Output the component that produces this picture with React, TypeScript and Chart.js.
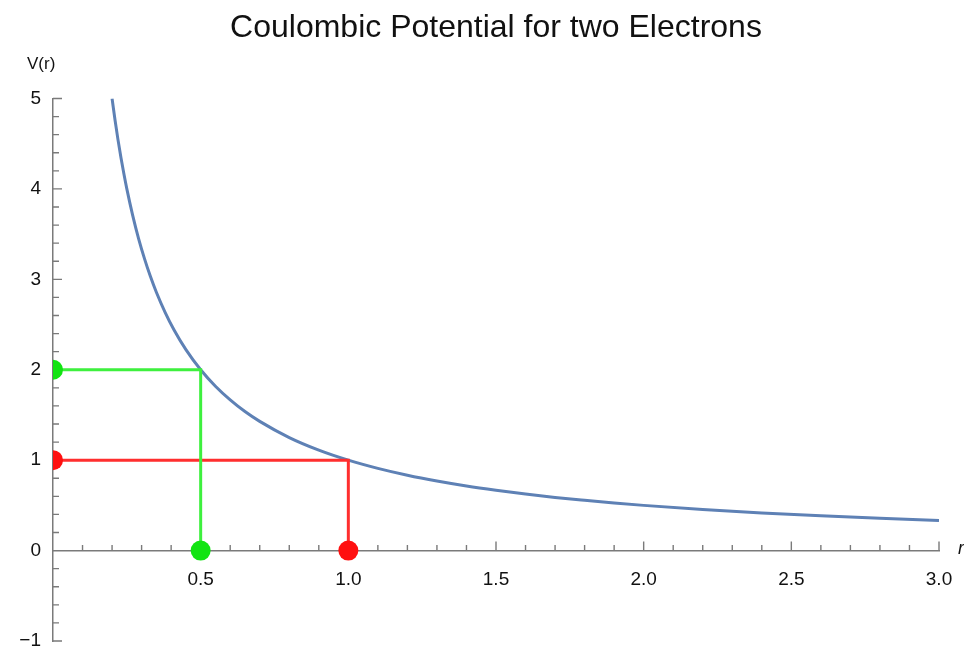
import { useEffect, useRef } from 'react';
import { Chart, registerables } from 'chart.js';

Chart.register(...registerables);

const TITLE = 'Coulombic Potential for two Electrons';
const Y_LABEL = 'V(r)';
const X_LABEL = 'r';

// V(r) curve
const R_VALUES = [0.2, 0.21, 0.22, 0.23, 0.24, 0.25, 0.27, 0.29, 0.31, 0.33, 0.35, 0.38, 0.41, 0.45, 0.5, 0.55, 0.6, 0.65, 0.7, 0.8, 0.9, 1.0, 1.1, 1.2, 1.3, 1.4, 1.5, 1.6, 1.7, 1.8, 1.9, 2.0, 2.2, 2.4, 2.6, 2.8, 3.0];
const V_VALUES = [5.0, 4.762, 4.545, 4.348, 4.167, 4.0, 3.704, 3.448, 3.226, 3.030, 2.857, 2.632, 2.439, 2.222, 2.0, 1.818, 1.667, 1.538, 1.429, 1.25, 1.111, 1.0, 0.909, 0.833, 0.769, 0.714, 0.667, 0.625, 0.588, 0.556, 0.526, 0.5, 0.455, 0.417, 0.385, 0.357, 0.333];

// Marker guide lines
const GREEN_PATH_X = [0, 0.5, 0.5];
const GREEN_PATH_Y = [2, 2, 0];
const RED_PATH_X = [0, 1.0, 1.0];
const RED_PATH_Y = [1, 1, 0];

// Marker dots
const GREEN_DOTS_X = [0, 0.5];
const GREEN_DOTS_Y = [2, 0];
const RED_DOTS_X = [0, 1.0];
const RED_DOTS_Y = [1, 0];

// Axes
const X_MIN = 0;
const X_MAX = 3;
const X_STEP = 0.5;
const X_MINOR = 0.1;
const Y_MIN = -1;
const Y_MAX = 5;
const Y_STEP = 1;
const Y_MINOR = 0.2;

const FONT = "'Liberation Sans', Arial, Helvetica, sans-serif";
const AXIS_COLOR = '#7a7a7a';
const TEXT_COLOR = '#111111';
const CURVE_COLOR = '#5e81b5';
const GREEN_LINE = '#3ef03e';
const GREEN_DOT = '#12e412';
const RED_LINE = '#ff2e2e';
const RED_DOT = '#ff1010';

const zip = (xs: number[], ys: number[]) => xs.map((x, i) => ({ x, y: ys[i] }));

const axisTicks = {
  id: 'axisTicks',
  beforeDatasetsDraw(chart: any) {
    const { ctx, chartArea, scales } = chart;
    const x = scales.x;
    const y = scales.y;
    const y0 = y.getPixelForValue(0);
    ctx.save();
    ctx.strokeStyle = AXIS_COLOR;
    ctx.lineWidth = 1.4;
    ctx.beginPath();
    const nx = Math.round((X_MAX - X_MIN) / X_MINOR);
    for (let i = 1; i <= nx; i++) {
      const v = X_MIN + i * X_MINOR;
      const px = x.getPixelForValue(v);
      const major = i % 5 === 0;
      ctx.moveTo(px, y0);
      ctx.lineTo(px, y0 - (major ? 9 : 5.5));
    }
    const ny = Math.round((Y_MAX - Y_MIN) / Y_MINOR);
    for (let j = 0; j <= ny; j++) {
      const v = Y_MIN + j * Y_MINOR;
      if (Math.abs(v) < 1e-9) continue;
      const py = y.getPixelForValue(v);
      const major = j % 5 === 0;
      ctx.moveTo(chartArea.left, py);
      ctx.lineTo(chartArea.left + (major ? 9 : 6), py);
    }
    ctx.stroke();
    ctx.restore();
  },
  afterDraw(chart: any) {
    const { ctx, chartArea, scales } = chart;
    const y0 = scales.y.getPixelForValue(0);
    ctx.save();
    ctx.fillStyle = TEXT_COLOR;
    ctx.font = `17px ${FONT}`;
    ctx.textAlign = 'left';
    ctx.textBaseline = 'middle';
    ctx.fillText(Y_LABEL, 27, 64);
    ctx.font = `italic 18px ${FONT}`;
    ctx.fillText(X_LABEL, chartArea.right + 19, y0 - 2);
    ctx.restore();
  },
};

export default function App() {
  const canvasRef = useRef<HTMLCanvasElement | null>(null);

  useEffect(() => {
    if (!canvasRef.current) return;
    const chart = new Chart(canvasRef.current, {
      type: 'scatter',
      data: {
        datasets: [
          {
            label: 'green dots',
            data: zip(GREEN_DOTS_X, GREEN_DOTS_Y),
            backgroundColor: GREEN_DOT,
            borderWidth: 0,
            pointRadius: 10,
            showLine: false,
            order: 0,
            clip: { left: 0, top: false, right: false, bottom: false } as any,
          },
          {
            label: 'red dots',
            data: zip(RED_DOTS_X, RED_DOTS_Y),
            backgroundColor: RED_DOT,
            borderWidth: 0,
            pointRadius: 10,
            showLine: false,
            order: 0,
            clip: { left: 0, top: false, right: false, bottom: false } as any,
          },
          {
            label: 'green path',
            data: zip(GREEN_PATH_X, GREEN_PATH_Y),
            borderColor: GREEN_LINE,
            borderWidth: 3,
            pointRadius: 0,
            showLine: true,
            order: 1,
          },
          {
            label: 'red path',
            data: zip(RED_PATH_X, RED_PATH_Y),
            borderColor: RED_LINE,
            borderWidth: 3,
            pointRadius: 0,
            showLine: true,
            order: 1,
          },
          {
            label: 'V(r)',
            data: zip(R_VALUES, V_VALUES),
            borderColor: CURVE_COLOR,
            borderWidth: 3,
            pointRadius: 0,
            showLine: true,
            cubicInterpolationMode: 'monotone',
            order: 2,
          },
        ],
      },
      options: {
        animation: false,
        responsive: true,
        maintainAspectRatio: false,
        layout: { padding: { left: 0, right: 25, top: 0, bottom: 7 } },
        plugins: {
          legend: { display: false },
          tooltip: { enabled: false },
          title: {
            display: true,
            text: TITLE,
            fullSize: false,
            color: TEXT_COLOR,
            font: { family: FONT, size: 32, weight: 'normal', lineHeight: 1.2 },
            padding: { top: 9, bottom: 51.1 },
          },
        },
        scales: {
          x: {
            type: 'linear',
            position: { y: 0 } as any,
            min: X_MIN,
            max: X_MAX,
            grid: { display: false, drawTicks: false },
            border: { display: true, color: AXIS_COLOR, width: 1.5 },
            ticks: {
              stepSize: X_STEP,
              padding: 18,
              color: TEXT_COLOR,
              font: { family: FONT, size: 19 },
              maxRotation: 0,
              autoSkip: false,
              callback: (v: any) => (Number(v) === 0 ? '' : Number(v).toFixed(1)),
            },
            afterFit: (s: any) => {
              s.paddingLeft = 0;
              s.paddingRight = 0;
            },
          },
          y: {
            type: 'linear',
            position: 'left',
            min: Y_MIN,
            max: Y_MAX,
            grid: { display: false, drawTicks: false },
            border: { display: true, color: AXIS_COLOR, width: 1.5 },
            ticks: {
              stepSize: Y_STEP,
              padding: 12,
              color: TEXT_COLOR,
              font: { family: FONT, size: 19 },
              autoSkip: false,
              callback: (v: any) => (Number(v) < 0 ? '\u2212' + Math.abs(Number(v)) : String(v)),
            },
            afterFit: (s: any) => {
              s.width = 53;
              s.paddingTop = 0;
              s.paddingBottom = 0;
            },
          },
        },
      },
      plugins: [axisTicks],
    });
    return () => chart.destroy();
  }, []);

  return (
    <div style={{ position: 'fixed', left: 0, top: 0, width: 964, height: 651, background: '#fff' }}>
      <canvas ref={canvasRef} />
    </div>
  );
}
